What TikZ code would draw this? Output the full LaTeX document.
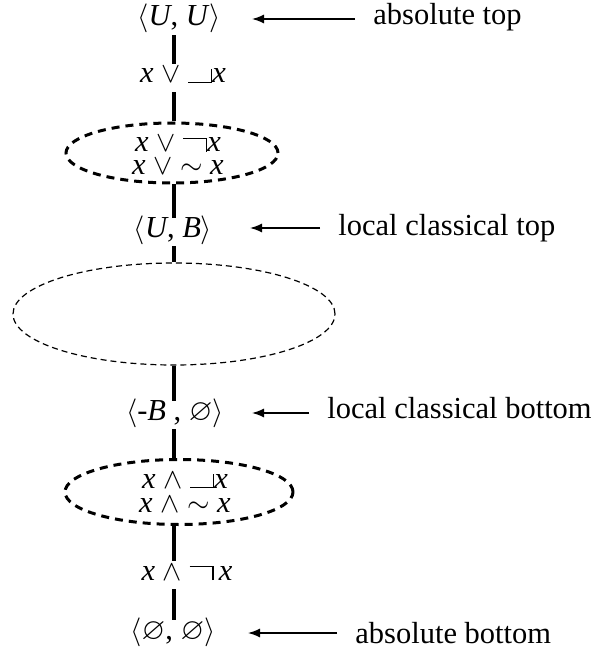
\documentclass[tikz,border=0pt]{standalone}
\usepackage{amssymb}
\usepackage{fontspec}
\setmainfont{Liberation Serif}
\usetikzlibrary{shapes.geometric,arrows.meta}
\newcommand\myneg{\rule[0.42em]{0.75em}{0.045em}\rule{0.045em}{0.465em}}
\newcommand\mycorner{\rule{0.75em}{0.045em}\rule{0.045em}{0.465em}}
\newcommand\ix{\textit{x}}
\begin{document}
\begin{tikzpicture}[x=0.5pt,y=-0.5pt,
  font=\fontsize{15.25}{18}\selectfont,
  term/.style={inner sep=2pt,text height=0.75em,text depth=0.25em},
  inner/.style={inner sep=0pt,anchor=base},
  lab/.style={inner sep=0pt,anchor=base west},
  spine/.style={line width=1.8pt},
  arr/.style={line width=0.7pt,-{Latex[length=6pt,width=4.5pt]},shorten <=9pt},
  bigdash/.style={draw,ellipse,line width=1.5pt,dash pattern=on 4pt off 3pt,inner sep=0pt},
  thindash/.style={draw,ellipse,line width=0.6pt,dash pattern=on 3pt off 2pt,inner sep=0pt}]
\useasboundingbox (0,0) rectangle (592,652);
\coordinate (sp) at (174,0);
% terms
\node[term] (uu) at (179,21) {$\langle$\textit{U}, \textit{U}$\rangle$};
\node[term] (j1) at (183,78) {\ix{} $\vee$ \mycorner\ix};
\node[bigdash,minimum width=106pt,minimum height=30pt] (e1) at (172,153) {};
\node[inner] (e1a) at (178,152) {\ix{} $\vee$ \myneg\ix};
\node[inner] (e1b) at (178,175) {\ix{} $\vee$ $\sim$ \ix};
\node[term] (ub) at (173,232) {$\langle$\textit{U}, \textit{B}$\rangle$};
\node[thindash,minimum width=161pt,minimum height=51pt] (e2) at (174,314) {};
\node[term] (mb) at (175,415) {$\langle$-\textit{B} , $\varnothing\rangle$};
\node[bigdash,minimum width=114pt,minimum height=32.5pt] (e3) at (179,492) {};
\node[inner] (e3a) at (185,488) {\ix{} $\wedge$ \mycorner\ix};
\node[inner] (e3b) at (185,512) {\ix{} $\wedge$ $\sim$ \ix};
\node[term] (m1) at (187,575) {\ix{} $\wedge$ \myneg\,\ix};
\node[term] (bb) at (173,634) {$\langle\varnothing$, $\varnothing\rangle$};
% connectors
\draw[spine] (uu.south -| sp) -- (j1.north -| sp);
\draw[spine] (j1.south -| sp) -- (e1.north -| sp);
\draw[spine] (e1.south -| sp) -- (ub.north -| sp);
\draw[spine] (ub.south -| sp) -- (e2.north -| sp);
\draw[spine] (e2.south -| sp) -- (mb.north -| sp);
\draw[spine] (mb.south -| sp) -- (e3.north -| sp);
\draw[spine] (e3.south -| sp) -- (m1.north -| sp);
\draw[spine] (m1.south -| sp) -- (bb.north -| sp);
% labels
\node[lab] (l1) at (373,25) {absolute top};
\node[lab] (l2) at (338,235) {local classical top};
\node[lab] (l3) at (327,418) {local classical bottom};
\node[lab] (l4) at (355,643) {absolute bottom};
\coordinate (t1) at (252,19);
\coordinate (t2) at (250,228);
\coordinate (t3) at (252,413);
\coordinate (t4) at (248,633);
\draw[arr] (t1 -| l1.west) -- (t1);
\draw[arr] (t2 -| l2.west) -- (t2);
\draw[arr] (t3 -| l3.west) -- (t3);
\draw[arr] (t4 -| l4.west) -- (t4);
\end{tikzpicture}
\end{document}
